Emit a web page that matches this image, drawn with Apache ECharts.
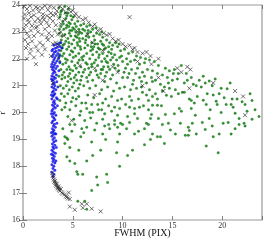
<!DOCTYPE html>
<html><head><meta charset="utf-8">
<script src="https://cdn.jsdelivr.net/npm/echarts@6/dist/echarts.min.js"></script>
<style>html,body{margin:0;padding:0;background:#fff}#c{width:266px;height:242px}</style>
</head><body><div id="c"></div>
<script>
var xTicks = [0, 5, 10, 15, 20];
var yTicks = [16, 17, 18, 19, 20, 21, 22, 23, 24];
var xLabel = 'FWHM (PIX)';
var yLabel = "r'";

var greenPts = [
[3.6,23.9],[3.9,23.8],[4.2,23.95],[4.5,23.7],[4.8,23.6],[3.7,23.55],[4.0,23.4],[4.3,23.5],[4.6,23.35],[4.9,23.45],[5.2,23.3],[5.5,23.4],[5.8,23.25],[3.8,23.2],[4.1,23.1],[4.4,23.25],[4.7,23.05],[5.0,23.15],[5.3,23.0],[5.6,23.1],[5.9,22.95],[3.65,22.95],[3.9,22.85],[4.2,22.9],[4.5,22.75],[4.8,22.85],[5.1,22.7],[5.4,22.8],[5.7,22.65],[6.0,22.75],[3.7,22.6],[4.0,22.5],[4.3,22.65],[4.6,22.45],[4.9,22.55],[5.2,22.4],[5.5,22.5],[5.8,22.35],[3.8,22.3],[4.1,22.2],[4.4,22.35],[4.7,22.15],[5.0,22.25],[5.3,22.1],[5.6,22.2],[5.9,22.05],[3.6,22.05],[4.25,22.0],[4.55,23.85],[5.05,23.55],[3.75,23.65],[4.35,23.15],[5.35,23.2],[3.85,22.7],[4.65,22.95],[5.45,22.6],[3.95,22.4],[4.85,22.3],[5.75,22.45],[4.05,23.3],[5.55,22.9],[3.7,22.15],
[6.1,23.3],[6.4,23.2],[6.7,23.25],[7.0,23.1],[6.2,23.05],[6.5,22.95],[6.8,23.0],[7.1,22.85],[7.4,22.95],[7.7,22.9],[8.0,22.8],[6.3,22.7],[6.6,22.8],[6.9,22.6],[7.2,22.7],[7.5,22.55],[7.8,22.65],[8.1,22.5],[8.4,22.7],[8.7,22.6],[9.0,22.5],[6.2,22.4],[6.5,22.5],[6.8,22.3],[7.1,22.45],[7.4,22.25],[7.7,22.35],[8.0,22.2],[8.3,22.4],[8.6,22.25],[8.9,22.35],[9.2,22.15],[9.5,22.45],[9.8,22.3],[6.1,22.1],[6.4,22.2],[6.7,22.0],[7.0,22.15],[7.3,21.95],[7.6,22.05],[7.9,21.9],[8.2,22.0],[8.5,21.85],[8.8,21.95],[9.1,21.8],[9.4,21.95],[9.7,22.05],[10.0,21.9],[6.3,21.85],[6.9,21.8],[7.5,21.75],[8.1,21.7],[9.3,22.6],[7.9,23.0],[6.0,21.95],[7.25,22.55],[8.45,22.1],[9.65,22.55],[6.6,21.65],[8.7,21.6],
[3.7,21.9],[4.0,21.8],[4.3,21.85],[4.6,21.7],[4.9,21.9],[5.2,21.75],[5.5,21.85],[5.8,21.7],[3.8,21.6],[4.1,21.5],[4.4,21.6],[4.7,21.45],[5.0,21.55],[5.3,21.4],[5.6,21.5],[5.9,21.35],[3.6,21.35],[3.9,21.25],[4.2,21.3],[4.5,21.15],[4.8,21.25],[5.1,21.1],[5.4,21.2],[5.7,21.05],[3.75,21.0],[4.05,20.9],[4.35,21.0],[4.65,20.85],[4.95,20.95],[5.25,20.8],[5.55,20.9],[3.85,20.7],[4.15,20.6],[4.5,20.7],[5.0,20.55],[5.6,20.6],[3.7,20.45],[4.3,20.35],
[6.2,21.6],[6.8,21.5],[7.3,21.55],[7.8,21.45],[8.4,21.5],[9.0,21.4],[9.6,21.55],[6.4,21.3],[7.0,21.2],[7.6,21.3],[8.2,21.15],[8.8,21.25],[9.4,21.1],[10.0,21.3],[6.1,21.0],[6.7,20.9],[7.3,21.0],[7.9,20.85],[8.5,20.95],[9.1,20.8],[9.7,20.9],[6.5,20.65],[7.1,20.55],[7.7,20.7],[8.3,20.5],[8.9,20.6],[9.5,20.45],[6.3,20.35],[7.5,20.3],[8.6,20.25],[9.9,20.5],[6.9,21.7],[8.0,21.6],
[10.2,22.35],[10.6,22.2],[11.0,22.25],[11.4,22.1],[11.8,22.05],[12.3,22.0],[10.4,22.0],[10.8,21.9],[11.2,21.95],[11.7,21.8],[12.2,21.85],[12.7,21.95],[13.2,21.9],[13.6,21.75],[10.3,21.65],[10.9,21.6],[11.5,21.65],[12.0,21.5],[12.5,21.6],[13.0,21.55],[13.5,21.45],[14.0,21.4],[10.5,21.3],[11.1,21.2],[11.7,21.3],[12.4,21.1],[13.0,21.15],[13.8,21.05],[10.2,20.95],[10.8,20.85],[11.4,20.9],[12.0,20.75],[12.7,20.85],[13.3,20.7],[14.0,20.8],[10.7,20.6],[11.6,20.5],[12.6,20.45],[13.5,20.5],[10.3,20.3],
[14.3,21.65],[14.7,21.55],[15.2,21.6],[15.6,21.45],[15.9,21.75],[16.4,21.45],[14.5,21.3],[15.0,21.2],[15.5,21.25],[16.2,21.1],[16.9,21.3],[17.4,21.0],[17.7,21.2],[18.1,21.35],[18.3,21.1],[18.7,21.17],[19.3,21.25],[19.0,21.0],[14.2,20.95],[14.7,20.9],[15.3,20.85],[16.0,20.75],[16.7,20.5],[16.9,20.45],[18.1,20.46],[19.4,20.42],[19.5,20.3],[19.9,20.9],[20.4,20.3],[20.8,21.1],[20.5,20.88],[21.0,20.5],[21.5,20.5],[22.0,20.4],[21.1,20.2],[22.5,20.05],[23.3,20.1],[14.4,20.64],[14.9,20.6],[15.7,20.15],[16.2,20.75],[16.9,20.15],[15.9,20.05],[15.2,19.95],[14.3,19.93],[19.9,20.0],[21.3,19.97],[21.7,19.78],[22.2,19.6],[20.6,19.63],[20.1,19.6],[18.7,19.78],[18.0,19.63],[17.5,20.6],[18.8,20.1],[22.8,20.7],[23.7,19.85],[17.3,19.9],
[10.7,20.2],[11.2,20.15],[11.7,20.2],[12.1,20.25],[12.6,20.1],[13.0,20.27],[13.5,20.27],[12.9,19.93],[12.8,19.78],[11.5,19.78],[10.7,19.63],[12.4,19.6],[14.6,19.6],[13.6,19.78],[11.2,19.95],[10.5,19.85],
[4.2,20.2],[4.7,20.1],[5.3,20.25],[5.8,20.05],[6.4,20.15],[7.0,20.0],[7.6,20.1],[8.2,19.95],[8.9,20.05],[9.5,19.9],[4.5,19.85],[5.1,19.75],[5.7,19.9],[6.2,19.7],[6.8,19.8],[7.4,19.6],[8.0,19.75],[8.6,19.55],[9.2,19.7],[9.8,19.6],[4.0,19.4],[4.7,19.55],[5.2,19.55],[5.9,19.4],[6.4,19.45],[8.2,19.5],[8.7,19.4],[9.5,19.45],[9.2,19.55],[10.0,19.55],[10.4,19.4],
[4.2,19.1],[4.5,19.0],[4.4,19.05],[4.2,18.85],[4.7,18.7],[4.4,18.35],[4.7,18.2],[5.2,18.1],[6.4,18.2],[5.4,17.8],[5.5,17.7],[6.0,17.7],[7.4,17.6],[7.5,17.3],[8.4,17.7],[8.5,17.4],[6.9,17.1],[5.5,16.7],[6.2,16.7],[6.4,16.4],[9.7,19.2],[9.5,18.9],[9.4,18.5],[9.7,18.0],[11.2,19.2],[11.6,19.3],[12.2,19.4],[12.6,19.55],[12.2,18.8],[12.8,19.0],[13.0,19.2],[13.5,19.1],[13.8,19.1],[14.2,18.85],[14.8,19.35],[15.3,19.2],[16.3,19.15],[16.6,19.15],[16.6,19.45],[16.7,19.33],[17.4,19.2],[18.3,19.37],[18.4,18.75],[19.1,19.1],[19.6,18.5],[19.7,19.2],[21.3,19.4],[21.7,19.55],[22.3,19.5],[6.9,18.9],[7.8,18.6],[8.3,19.0],[5.8,19.1],[10.5,18.4],[11.0,18.6],
[4.4,23.6],[4.75,23.3],[5.15,23.1],[5.65,22.75],[6.25,22.6],[6.85,22.45],[7.55,22.4],[8.15,22.35],[8.85,22.2],[4.15,22.55],[4.6,22.6],[5.05,22.05],[5.65,21.95],[6.45,21.8],[7.15,21.85],[7.85,21.6],[8.55,21.7],[9.25,21.65],[4.45,21.95],[3.95,22.1],[4.75,21.6],[5.35,21.65],[6.05,21.5],[6.65,21.4],[7.45,21.4],[8.25,21.35],[3.95,21.4],[4.55,21.35],[5.15,21.3],[5.8,21.2],[6.5,21.15],[4.6,23.2],[5.25,22.85],[6.0,23.1],[6.55,23.05],[7.35,23.15],[7.95,22.55],[8.6,22.45],[9.9,22.1],[10.5,21.8],
[3.8,23.75],[4.25,23.7],[3.65,23.1],[4.9,23.05],[5.7,23.0],[6.35,22.85],[7.0,22.35],[7.65,22.15],[8.35,21.9],[9.0,22.05],[9.55,21.75],[10.15,21.5],[10.65,21.45],[11.3,21.45],[11.9,21.15],[12.2,21.35],[12.9,21.3],[13.3,21.2],[11.0,21.05],[11.9,20.95],[12.4,20.65],[13.0,20.6],[13.9,20.25],[14.6,21.1],[15.1,21.45],[15.6,20.7],[16.5,21.2],[17.1,21.05],[17.9,20.95],[18.5,20.7],[19.1,20.65],[19.7,20.7],[20.2,20.55],[17.2,20.35],[18.4,20.3],[20.9,20.3],[22.3,20.3],[23.0,20.45],[5.9,20.35],[6.9,20.3],[8.0,20.35],[9.2,20.2],[4.85,20.4],[5.35,20.5],[6.7,20.0],[7.9,20.1],[9.7,20.15],[10.9,20.45],[3.9,20.1],[4.9,19.3],[6.1,19.25],[7.2,19.35],[8.0,19.2],[7.0,18.4],[5.6,18.6],[14.0,19.55],[15.8,19.6],[17.0,19.6],[19.0,19.5],[20.9,19.2],[23.0,19.75]
];

var bluePts = [
[3.0,17.62],[3.1,17.7],[2.9,17.78],[3.2,17.85],[3.0,17.92],[3.1,18.0],[2.9,18.06],[3.2,18.12],[3.0,18.18],[3.1,18.25],[2.95,18.3],[3.15,18.36],[3.0,18.42],[3.25,18.48],[3.05,18.53],[2.9,18.6],[3.1,18.66],[3.0,18.72],[3.2,18.78],[2.95,18.83],[3.1,18.9],[3.3,18.95],[3.0,19.0],[3.15,19.06],[2.9,19.12],[3.05,19.18],[3.2,19.22],[3.0,19.28],[3.1,19.34],[2.95,19.4],[3.25,19.45],[3.05,19.5],[3.15,19.56],[2.9,19.62],[3.0,19.68],[3.2,19.73],[3.1,19.8],[2.95,19.85],[3.3,19.9],[3.05,19.95],[3.15,20.0],[2.9,20.06],[3.0,20.12],[3.25,20.17],[3.1,20.22],[2.95,20.28],[3.2,20.33],[3.05,20.38],[3.15,20.44],[2.9,20.5],[3.35,20.55],[3.0,20.6],[3.1,20.65],[3.2,20.7],[2.95,20.75],[3.05,20.8],[3.3,20.85],[3.1,20.9],[2.9,20.95],[3.2,21.0],[3.0,21.05],[3.15,21.1],[3.4,21.14],[2.95,21.18],[3.05,21.22],[3.25,21.27],[3.1,21.32],[2.9,21.36],[3.35,21.4],[3.0,21.45],[3.2,21.5],[3.1,21.55],[2.95,21.6],[3.3,21.64],[3.05,21.68],[3.45,21.72],[3.15,21.76],[2.9,21.8],[3.25,21.84],[3.0,21.88],[3.4,21.92],[3.1,21.96],[3.55,22.0],[3.2,22.04],[2.95,22.08],[3.35,22.12],[3.05,22.16],[3.5,22.2],[3.15,22.24],[3.3,22.28],[3.6,22.32],[3.0,22.35],[3.25,22.39],[3.45,22.43],[3.7,22.46],[3.1,22.5],[3.35,22.53],[3.55,22.56],[3.8,22.6],
[3.3,18.2],[2.85,18.45],[3.35,18.7],[2.85,19.25],[3.4,19.6],[2.85,19.95],[3.45,20.25],[2.85,20.65],[3.5,20.95],[2.85,21.25],[3.6,21.55],[2.85,21.7],[3.7,21.85],[3.65,22.1],[2.9,22.3],[3.9,22.4],[3.45,20.5],[3.3,19.2]
];

var blackPts = [
[0.1,23.95],[0.4,23.85],[0.7,23.97],[1.0,23.8],[1.3,23.92],[1.6,23.75],[1.9,23.88],[2.2,23.97],[2.5,23.82],[2.8,23.7],[3.1,23.9],[3.4,23.78],[3.7,23.95],[4.0,23.86],[4.3,23.72],[4.6,23.9],[5.0,23.8],[5.3,23.68],[0.2,23.65],[0.6,23.7],[1.1,23.62],[1.5,23.88],[2.0,23.66],[2.4,23.6],[2.7,23.95],[3.0,23.62],[3.3,23.66],
[0.1,23.5],[0.5,23.45],[0.8,23.55],[1.2,23.38],[1.5,23.5],[1.8,23.3],[2.1,23.45],[2.4,23.35],[2.7,23.52],[3.0,23.4],[3.3,23.25],[3.6,23.5],[0.3,23.25],[0.9,23.22],[1.4,23.2],[2.0,23.55],[2.6,23.22],[3.8,23.3],[4.2,23.45],[0.6,23.35],[1.7,23.42],
[0.1,23.1],[0.4,22.95],[0.8,23.05],[1.1,22.85],[1.5,23.0],[1.9,22.9],[2.2,23.1],[2.6,22.95],[2.9,22.85],[3.2,23.05],[3.5,22.9],[0.6,22.82],[1.3,23.15],[2.4,22.8],[3.8,23.0],[4.1,22.85],
[0.2,22.7],[0.5,22.55],[0.9,22.65],[1.3,22.45],[1.7,22.6],[2.0,22.5],[2.5,22.7],[3.0,22.55],[3.3,22.6],[3.6,22.5],[0.8,22.35],[1.5,22.3],[2.2,22.35],[0.3,22.4],
[0.7,22.2],[1.1,22.05],[1.9,22.15],[2.8,22.1],[0.4,22.0],[1.3,21.8],[3.0,21.1],
[4.8,23.75],[5.2,23.6],[5.6,23.55],[6.0,23.45],[6.3,23.5],[6.6,23.35],[7.0,23.2],[7.2,23.28],[7.5,23.05],[7.8,23.1],[8.1,22.95],[8.4,22.88],[8.7,22.92],[9.0,22.75],[9.3,22.65],[9.6,22.7],[10.0,22.55],[10.3,22.45],[10.7,22.5],[11.0,22.35],[11.2,22.4],[11.5,22.25],[12.0,22.2],[12.4,22.25],[12.8,22.1],[12.9,21.8],[13.6,22.0],[13.6,21.3],[14.1,20.8],[15.5,21.65],[15.9,21.5],[16.5,21.7],[16.8,21.6],[16.7,20.9],[19.1,21.1],[21.3,20.8],[22.1,20.6],[22.3,19.9],[11.5,21.9],[10.7,23.55],[7.0,22.6],[8.0,22.3],[9.5,21.5],[6.5,22.9],[5.5,23.0],[12.0,21.0],
[5.7,21.75],[7.2,21.65],[8.0,21.2],[7.2,20.65],[4.9,19.7],[9.0,21.7],
[2.95,17.75],[3.0,17.65],[3.05,17.58],[3.1,17.5],[3.2,17.45],[3.25,17.38],[3.3,17.32],[3.35,17.27],[3.45,17.22],[3.5,17.18],[3.55,17.25],[3.6,17.12],[3.7,17.08],[3.8,17.15],[3.9,17.02],[4.0,16.98],[4.2,16.95],[4.3,16.88],[4.4,16.85],[4.5,16.8],[4.6,17.02],[4.7,16.78],[4.7,16.5],[5.2,16.38],[5.9,16.6],[6.0,16.45],[6.4,16.6],[6.9,16.42],[7.8,16.32],[3.4,17.35],[3.15,17.42],[3.65,17.18]
];

var FONT = 'Liberation Serif';
var chart = echarts.init(document.getElementById('c'), null, {renderer: 'canvas'});
var tickStyle = {show: true, inside: true, length: 4, lineStyle: {color: '#666', width: 0.8}};
chart.setOption({
  animation: false,
  grid: {left: 23, right: 4, top: 5, bottom: 22, show: true, borderColor: '#999', borderWidth: 1.2,
         backgroundColor: 'transparent', containLabel: false, outerBoundsMode: 'none'},
  xAxis: [
    {type: 'value', min: 0, max: 24, interval: 5, position: 'bottom',
     name: xLabel, nameLocation: 'middle', nameGap: 8, nameMoveOverlap: false,
     nameTextStyle: {fontFamily: FONT, fontSize: 10, color: '#111', verticalAlign: 'top'},
     axisLine: {show: false}, splitLine: {show: false}, axisTick: tickStyle,
     axisLabel: {fontFamily: FONT, fontSize: 8, color: '#333', margin: 2,
       formatter: function (v) { return xTicks.indexOf(v) >= 0 ? String(v) : ''; }}},
    {type: 'value', min: 0, max: 24, interval: 5, position: 'top',
     axisLine: {show: false}, splitLine: {show: false}, axisTick: tickStyle, axisLabel: {show: false}}
  ],
  yAxis: [
    {type: 'value', min: 16, max: 24, interval: 1, position: 'left',
     name: yLabel, nameLocation: 'middle', nameGap: 16, nameRotate: 90, nameMoveOverlap: false,
     nameTextStyle: {fontFamily: FONT, fontSize: 8, color: '#111'},
     axisLine: {show: false}, splitLine: {show: false}, axisTick: tickStyle,
     axisLabel: {fontFamily: FONT, fontSize: 8, color: '#333', margin: 3,
       formatter: function (v) { return yTicks.indexOf(v) >= 0 ? String(v) : ''; }}},
    {type: 'value', min: 16, max: 24, interval: 1, position: 'right',
     axisLine: {show: false}, splitLine: {show: false}, axisTick: tickStyle, axisLabel: {show: false}}
  ],
  series: [
    {type: 'scatter', data: greenPts, symbol: 'circle', symbolSize: 2.5,
     itemStyle: {color: '#007d00', borderColor: '#005000', borderWidth: 0.3}},
    {type: 'scatter', data: bluePts, symbol: 'circle', symbolSize: 2.5,
     itemStyle: {color: '#0a0aff', borderColor: '#0000b0', borderWidth: 0.3}},
    {type: 'scatter', data: blackPts, symbol: 'path://M0,0L10,10M10,0L0,10', symbolSize: 4,
     itemStyle: {color: 'none', borderColor: '#222', borderWidth: 0.8}}
  ]
});
</script></body></html>
